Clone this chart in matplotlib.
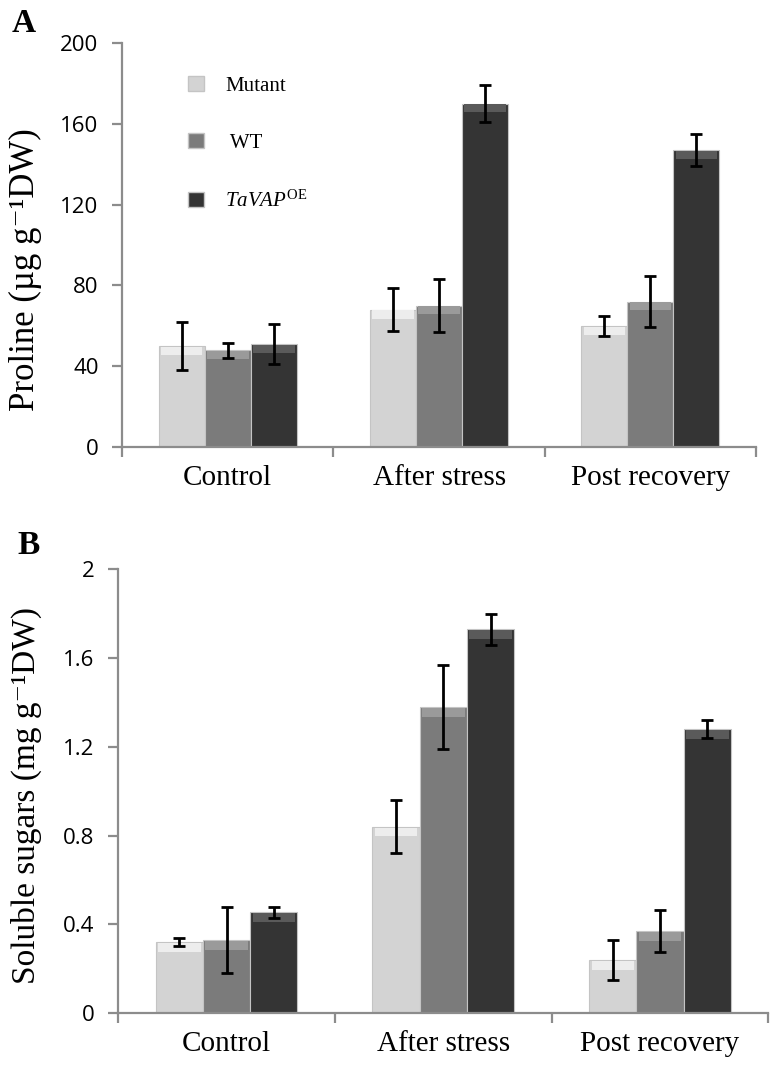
import numpy as np
import matplotlib
matplotlib.use('Agg')
import matplotlib.pyplot as plt
from matplotlib.patches import Patch

plt.rcParams['mathtext.fontset'] = 'custom'
plt.rcParams['mathtext.rm'] = 'Liberation Serif'
plt.rcParams['mathtext.it'] = 'Liberation Serif:italic'

categories = ['Control', 'After stress', 'Post recovery']
series = ['Mutant', ' WT', r'$\it{TaVAP}^{\rm OE}$']

proline = [[50, 68, 60],       # Mutant
           [48, 70, 72],       # WT
           [51, 170, 147]]     # TaVAP OE
proline_err = [[12, 10.5, 5],
               [3.7, 13, 12.5],
               [10, 9, 8]]

sugars = [[0.32, 0.84, 0.24],
          [0.33, 1.38, 0.37],
          [0.455, 1.73, 1.28]]
sugars_err = [[0.02, 0.12, 0.09],
              [0.15, 0.19, 0.095],
              [0.025, 0.07, 0.04]]

proline_ticks = [0, 40, 80, 120, 160, 200]
sugar_ticks = [0, 0.4, 0.8, 1.2, 1.6, 2]
sugar_ticklabels = ['0', '0.4', '0.8', '1.2', '1.6', '2']

colors = ['#d3d3d3', '#7b7b7b', '#343434']
tops = ['#ededed', '#9a9a9a', '#5a5a5a']
spine_c = '#8c8c8c'
serif = ['Liberation Serif', 'DejaVu Serif']
sans = 'Open Sans'

fig = plt.figure(figsize=(7.73, 10.72), dpi=100)
axA = fig.add_axes([0.158, 0.583, 0.820, 0.377])
axB = fig.add_axes([0.153, 0.055, 0.841, 0.414])


def draw_panel(ax, vals, errs, ymax, band):
    x = np.arange(len(categories))
    w = 0.218
    for i in range(3):
        xi = x + (i - 1) * w
        v = np.array(vals[i])
        ax.bar(xi, v, w, color=colors[i], edgecolor='#c4c4c4', linewidth=0.8, zorder=2)
        # lighter bevel strip along the top of each bar
        ax.bar(xi, band, w * 0.9, bottom=v - band * 1.1, color=tops[i], linewidth=0, zorder=3)
        ax.errorbar(xi, v, yerr=errs[i], fmt='none', ecolor='black', elinewidth=2,
                    capsize=4.6, capthick=2, zorder=4)
    ax.set_xlim(-0.5, len(categories) - 0.5)
    ax.set_ylim(0, ymax)
    for s in ['top', 'right']:
        ax.spines[s].set_visible(False)
    for s in ['left', 'bottom']:
        ax.spines[s].set_color(spine_c)
        ax.spines[s].set_linewidth(1.6)
    ax.set_xticks(x)
    ax.set_xticklabels(categories, fontfamily=serif, fontsize=21)
    ax.set_xticks(np.arange(len(categories) + 1) - 0.5, minor=True)
    ax.tick_params(axis='x', which='major', length=0, pad=13)
    ax.tick_params(axis='x', which='minor', length=7, width=1.6, color=spine_c)
    ax.tick_params(axis='y', length=7, width=1.6, color=spine_c, pad=10, labelsize=16)


draw_panel(axA, proline, proline_err, 200, 4)
axA.set_yticks(proline_ticks)
axA.set_yticklabels([str(t) for t in proline_ticks], fontfamily=sans, fontsize=16)
axA.set_ylabel('Proline (µg g⁻¹DW)', fontfamily=serif, fontsize=25)
axA.yaxis.set_label_coords(-0.126, 0.44)

draw_panel(axB, sugars, sugars_err, 2, 0.04)
axB.set_yticks(sugar_ticks)
axB.set_yticklabels(sugar_ticklabels, fontfamily=sans, fontsize=16)
axB.set_ylabel('Soluble sugars (mg g⁻¹DW)', fontfamily=serif, fontsize=24)
axB.yaxis.set_label_coords(-0.118, 0.49)

handles = [Patch(facecolor=c, edgecolor='#c4c4c4') for c in colors]
axA.legend(handles, series, loc='upper left', bbox_to_anchor=(0.075, 0.965), frameon=False,
           prop={'family': serif, 'size': 15}, handlelength=0.75, handleheight=0.75,
           labelspacing=1.8, handletextpad=1.0)

fig.text(0.015, 0.978, 'A', fontfamily=serif, fontweight='bold', fontsize=24, va='center')
fig.text(0.022, 0.491, 'B', fontfamily=serif, fontweight='bold', fontsize=24, va='center')

fig.savefig('out.png', dpi=100)
